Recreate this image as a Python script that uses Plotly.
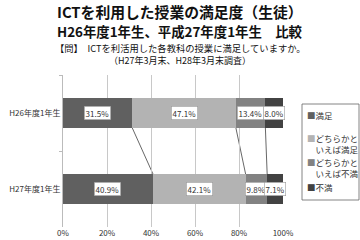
import plotly.graph_objects as go

categories = ["H26年度1年生", "H27年度1年生"]
series_names = ["満足", "どちらかと<br>いえば満足", "どちらかと<br>いえば不満", "不満"]
values = [
    [31.5, 40.9],
    [47.1, 42.1],
    [13.4, 9.8],
    [8.0, 7.1],
]
colors = ["#606060", "#b3b3b3", "#828282", "#424242"]
tick_vals = [0, 20, 40, 60, 80, 100]
tick_text = ["0%", "20%", "40%", "60%", "80%", "100%"]

FONT = "Noto Sans CJK JP"
bar_w = 0.395

# plot-area geometry (pixels) for paper conversions
PX_L, PX_R, PX_T, PX_B = 63, 283, 75, 227
def px_x(px):
    return (px - PX_L) / (PX_R - PX_L)
def px_y(py):
    return (PX_B - py) / (PX_B - PX_T)

fig = go.Figure()
for name, vals, col in zip(series_names, values, colors):
    fig.add_trace(go.Bar(
        y=categories, x=vals, name=name, orientation="h",
        marker=dict(color=col, line=dict(width=0)), width=bar_w,
        hoverinfo="skip", showlegend=False,
    ))

# labels and series lines
cum = [[0.0] * len(categories)]
for vals in values:
    cum.append([c + v for c, v in zip(cum[-1], vals)])

for si, vals in enumerate(values):
    for ci, v in enumerate(vals):
        mid = cum[si][ci] + v / 2
        fig.add_annotation(
            x=mid, y=categories[ci], text=f"{v:.1f}%", showarrow=False,
            font=dict(size=8, color="#333333", family=FONT),
            bgcolor="white", bordercolor="#999999", borderwidth=0.6, borderpad=1,
        )

for k in range(1, len(values)):
    fig.add_shape(
        type="line", xref="x", yref="y",
        x0=cum[k][0], y0=0 + bar_w / 2, x1=cum[k][1], y1=1 - bar_w / 2,
        line=dict(color="#404040", width=0.8), layer="below",
    )

# titles
titles = [
    ("<b>ICTを利用した授業の満足度（生徒）</b>", 14.8, 11),
    ("<b>H26年度1年生、平成27年度1年生　比較</b>", 13.4, 31),
    ("【問】　ICTを利活用した各教科の授業に満足していますか。", 9.3, 48),
    ("（H27年3月末、H28年3月末調査）", 9, 60),
]
for txt, sz, ypx in titles:
    fig.add_annotation(
        x=px_x(180), xref="paper", xanchor="center",
        y=px_y(ypx), yref="paper", yanchor="middle",
        text=txt, showarrow=False, font=dict(size=sz, color="#111111", family=FONT),
    )

# legend drawn as a bordered box with text items
fig.add_shape(
    type="rect", xref="paper", yref="paper",
    x0=px_x(302), x1=px_x(359), y0=px_y(104), y1=px_y(200),
    line=dict(color="#666666", width=0.8), fillcolor="white", layer="above",
)
legend_y = [115, 143, 167, 187]
for name, col, ly in zip(series_names, colors, legend_y):
    fig.add_annotation(
        x=px_x(305), xref="paper", xanchor="left",
        y=px_y(ly), yref="paper", yanchor="middle",
        text=f"<span style='color:{col}'>■</span>{name.replace('<br>', '<br>　')}",
        showarrow=False, align="left",
        font=dict(size=8.5, color="#333333", family=FONT),
    )

fig.update_layout(
    width=360, height=240,
    margin=dict(l=PX_L, r=360 - PX_R, t=PX_T, b=240 - PX_B),
    barmode="stack",
    bargap=0,
    paper_bgcolor="white", plot_bgcolor="white",
    font=dict(family=FONT, size=8, color="#333333"),
    showlegend=False,
    xaxis=dict(
        range=[0, 100], tickvals=tick_vals, ticktext=tick_text,
        showgrid=True, gridcolor="#c8c8c8", gridwidth=1,
        zeroline=False, showline=False, ticks="",
        tickfont=dict(size=8, family=FONT, color="#333333"),
        fixedrange=True, automargin=False,
    ),
    yaxis=dict(
        autorange="reversed", showline=True, linecolor="#bbbbbb", linewidth=1,
        ticks="outside", tickson="boundaries", ticklen=3, tickcolor="#bbbbbb",
        tickfont=dict(size=8, family=FONT, color="#333333"),
        fixedrange=True, automargin=False,
    ),
)

fig.write_html("out.html")
